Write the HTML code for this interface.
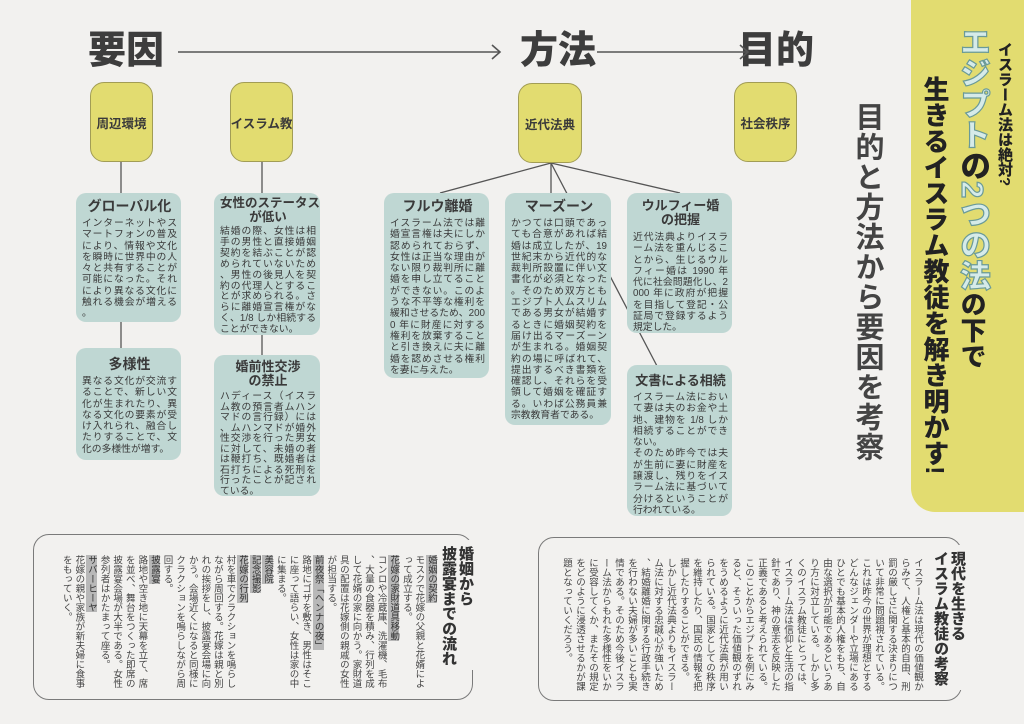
<!DOCTYPE html>
<html><head><meta charset="utf-8">
<style>
*{margin:0;padding:0;box-sizing:border-box}
body{width:1024px;height:724px;background:#f2f1ef;position:relative;overflow:hidden;font-family:"Liberation Sans","Noto Sans CJK JP",sans-serif;color:#3a3a3a}
.abs{position:absolute}
.h{font-size:38px;font-weight:900;color:#3d3d3d;line-height:1}
.y{position:absolute;background:#e2dc70;border:1px solid #a29d55;border-radius:14px;display:flex;align-items:center;justify-content:center;font-size:12.5px;font-weight:700;color:#3a3a3a;white-space:nowrap}
.t{position:absolute;background:#bfd7d3;border-radius:10px;padding:6px 4px 5px 6px;font-size:9.8px;line-height:11.3px;color:#3a3a3a;text-align:justify;line-break:anywhere;overflow:hidden}
.t b{display:block;text-align:center;font-size:13px;line-height:15px;margin-bottom:4px;color:#3a3a3a;white-space:nowrap}
.v{writing-mode:vertical-rl;position:absolute}
.box{position:absolute;border:1.5px solid #7a7a7a;border-radius:16px}
.vt{writing-mode:vertical-rl;position:absolute;font-size:9.5px;line-height:12.6px;color:#444;line-break:anywhere}
.vt span{background:#b8b8b8;color:#333}
</style></head><body>
<div class="abs" style="left:911px;top:0;width:113px;height:512px;background:#e2dc70;border-bottom-left-radius:24px"></div>

<div class="abs h" style="left:88px;top:32px">要因</div>
<div class="abs h" style="left:520px;top:32px">方法</div>
<div class="abs h" style="left:738px;top:32px">目的</div>

<svg class="abs" style="left:0;top:0" width="1024" height="724">
<g stroke="#555" stroke-width="1.6" fill="none">
<line x1="178" y1="52" x2="500" y2="52"/><polyline points="492,45 500,52 492,59"/>
<line x1="597" y1="52" x2="748" y2="52"/><polyline points="740,45 748,52 740,59"/>
</g>
<g stroke="#555" stroke-width="1.3">
<line x1="121" y1="162" x2="121" y2="193"/>
<line x1="262" y1="162" x2="262" y2="193"/>
<line x1="121" y1="322" x2="121" y2="348"/>
<line x1="262" y1="335" x2="262" y2="355"/>
<line x1="551" y1="163" x2="440" y2="193"/>
<line x1="551" y1="163" x2="551" y2="193"/>
<line x1="551" y1="163" x2="680" y2="193"/>
<line x1="551" y1="163" x2="657" y2="366"/>
</g></svg>

<div class="y" style="left:90px;top:82px;width:63px;height:80px">周辺環境</div>
<div class="y" style="left:230px;top:82px;width:63px;height:80px">イスラム教</div>
<div class="y" style="left:518px;top:83px;width:64px;height:80px">近代法典</div>
<div class="y" style="left:734px;top:82px;width:63px;height:80px">社会秩序</div>

<div class="t" style="left:76px;top:193px;width:105px;height:129px"><b style="font-size:14px">グローバル化</b>インターネットやスマートフォンの普及により、情報や文化を瞬時に世界中の人々と共有することが可能になった。それにより異なる文化に触れる機会が増える。</div>
<div class="t" style="left:76px;top:348px;width:105px;height:112px"><b style="margin-top:3px;font-size:14px">多様性</b>異なる文化が交流することで、新しい文化が生まれたり、異なる文化の要素が受け入れられ、融合したりすることで、文化の多様性が増す。</div>
<div class="t" style="left:214px;top:193px;width:106px;height:142px;padding-top:4px;line-height:10.9px"><b style="line-height:13.5px;font-size:12.5px;margin-bottom:3px">女性のステータス<br>が低い</b>結婚の際、女性は相手の男性と直接婚姻契約を結ぶことが認められていないため、男性の後見人を契約の代理人とすることが求められる。さらに離婚宣言権がなく、1/8 しか相続することができない。</div>
<div class="t" style="left:214px;top:355px;width:106px;height:141px;padding-top:4px;line-height:10.5px"><b style="line-height:14px;margin-bottom:4px;margin-top:1px">婚前性交渉<br>の禁止</b>ハディース（イスラム教の預言者ムハンマドの言行録）には、ムハンマドが婚外性交渉を行った男女に対して、未婚の者は鞭打ち、既婚者は石打ちによる死刑を行ったことが記されている。</div>
<div class="t" style="left:384px;top:193px;width:105px;height:185px"><b style="font-size:14px">フルウ離婚</b>イスラーム法では離婚宣言権は夫にしか認められておらず、女性は正当な理由がない限り裁判所に離婚を申し立てることができない。このような不平等な権利を緩和させるため、2000 年に財産に対する権利を放棄することと引き換えに夫に離婚を認めさせる権利を妻に与えた。</div>
<div class="t" style="left:505px;top:193px;width:106px;height:232px"><b style="font-size:14px">マーズーン</b>かつては口頭であっても合意があれば結婚は成立したが、19 世紀末から近代的な裁判所設置に伴い文書化が必須となった。そのため双方ともエジプト人ムスリムである男女が結婚するときに婚姻契約を届け出るマーズーンが生まれる。婚姻契約の場に呼ばれて、提出するべき書類を確認し、それらを受領して婚姻を確証する。いわば公務員兼宗教教育者である。</div>
<div class="t" style="left:627px;top:193px;width:105px;height:140px"><b style="line-height:14px;margin-bottom:5px">ウルフィー婚<br>の把握</b>近代法典よりイスラーム法を重んじることから、生じるウルフィー婚は 1990 年代に社会問題化し、2000 年に政府が把握を目指して登記・公証局で登録するよう規定した。</div>
<div class="t" style="left:627px;top:365px;width:105px;height:151px"><b style="margin-top:2px">文書による相続</b>イスラーム法において妻は夫のお金や土地、建物を 1/8 しか相続することができない。<br>そのため昨今では夫が生前に妻に財産を譲渡し、残りをイスラーム法に基づいて分けるということが行われている。</div>

<div class="v" style="left:850px;top:102px;font-size:29px;font-weight:700;line-height:34px;letter-spacing:1px;color:#444">目的と方法から要因を考察</div>

<div class="v" style="left:995px;top:42px;font-size:15px;font-weight:900;line-height:18px;color:#222">イスラーム法は絶対?</div>
<div class="v" style="left:954px;top:26px;font-size:31px;font-weight:900;line-height:36px;color:#222"><span style="color:#d6ebe9;-webkit-text-stroke:1.2px #6a9a98">エジプト</span>の<span style="color:#d6ebe9;-webkit-text-stroke:1.2px #6a9a98">2つの法</span><span style="font-size:26px">の下で</span></div>
<div class="v" style="left:919px;top:76px;font-size:26px;font-weight:900;line-height:32px;color:#222">生きるイスラム教徒を解き明かす!</div>

<div class="box" style="left:33px;top:534px;width:440px;height:166px"></div>
<div class="v" style="left:440px;top:540px;font-size:15px;font-weight:900;line-height:17px;color:#333;background:#f2f1ef;padding:6px 0 4px">婚姻から<br>披露宴までの流れ</div>
<div class="vt" style="right:587px;top:555px;height:135px"><span>婚姻の契約</span><br>モスクで花嫁の父親と花婿によって成立する。<br><span>花嫁の家財道具移動</span><br>コンロや冷蔵庫、洗濯機、毛布、大量の食器を積み、行列を成して花婿の家に向かう。家財道具の配置は花嫁側の親戚の女性が担当する。<br><span>前夜祭「ヘンナの夜」</span><br>路地にゴザを敷き、男性はそこに座って語らい、女性は家の中に集まる。<br><span>美容院</span><br><span>記念撮影</span><br><span>花嫁の行列</span><br>村を車でクラクションを鳴らしながら周回する。花嫁は親と別れの挨拶をし、披露宴会場に向かう。会場近くになると同様にクラクションを鳴らしながら周回する。<br><span>披露宴</span><br>路地や空き地に天幕を立て、席を並べ、舞台をつくった即席の披露宴会場が大半である。女性参列者はかたまって座る。<br><span>サバーヒーヤ</span><br>花嫁の親や家族が新夫婦に食事をもっていく。</div>

<div class="box" style="left:538px;top:537px;width:424px;height:164px"></div>
<div class="v" style="left:932px;top:545px;font-size:15px;font-weight:900;line-height:17px;color:#333;background:#f2f1ef;padding:6px 0 4px">現代を生きる<br>イスラム教徒の考察</div>
<div class="vt" style="right:100px;top:558px;height:135px;line-height:13px">イスラーム法は現代の価値観からみて、人権と基本的自由、刑罰の厳しさに関する決まりについて非常に問題視されている。これは昨今の世界が理想とするどんなジェンダーや立場にあるひとでも基本的人権をもち、自由な選択が可能であるというあり方に対立している。しかし多くのイスラム教徒にとっては、イスラーム法は信仰と生活の指針であり、神の意志を反映した正義であると考えられている。このことからエジプトを例にみると、そういった価値観のずれをうめるように近代法典が用いられている。国家としての秩序を維持したり、国民の情報を把握したりすることができる。<br>しかし近代法典よりもイスラーム法に対する忠誠心が強いため、結婚離婚に関する行政手続きを行わない夫婦が多いことも実情である。そのため今後イスラーム法からもれた多様性をいかに受容してくか、またその規定をどのように浸透させるかが課題となっていくだろう。</div>
</body></html>
